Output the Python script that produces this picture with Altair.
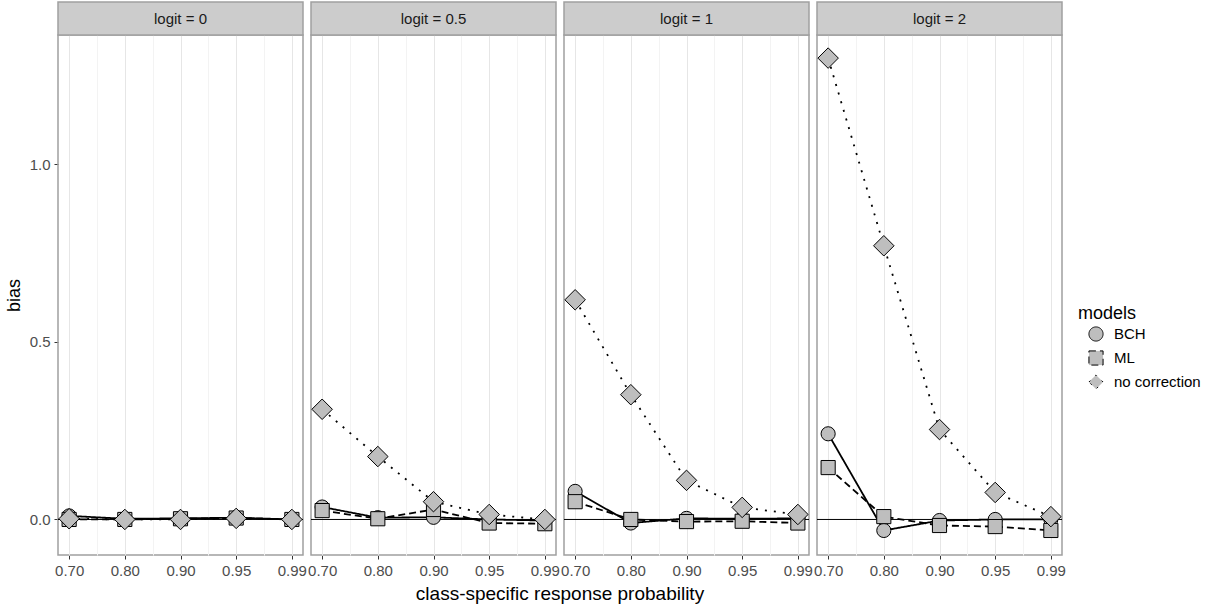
import altair as alt
import pandas as pd

probs = ["0.70", "0.80", "0.90", "0.95", "0.99"]
logits = ["0", "0.5", "1", "2"]
models = ["BCH", "ML", "no correction"]

bch_0 = [0.010, 0.002, 0.003, 0.005, 0.000]
ml_0 = [0.000, 0.000, 0.002, 0.004, 0.000]
nc_0 = [0.002, 0.000, 0.000, 0.003, 0.000]

bch_05 = [0.035, 0.005, 0.006, 0.000, -0.003]
ml_05 = [0.025, 0.002, 0.028, -0.010, -0.012]
nc_05 = [0.310, 0.177, 0.050, 0.014, 0.000]

bch_1 = [0.079, -0.010, 0.003, 0.002, 0.003]
ml_1 = [0.050, 0.000, -0.006, -0.005, -0.010]
nc_1 = [0.618, 0.351, 0.110, 0.034, 0.014]

bch_2 = [0.241, -0.031, -0.003, 0.000, 0.000]
ml_2 = [0.146, 0.008, -0.017, -0.020, -0.031]
nc_2 = [1.298, 0.770, 0.253, 0.076, 0.008]

series = {
    "0": [bch_0, ml_0, nc_0],
    "0.5": [bch_05, ml_05, nc_05],
    "1": [bch_1, ml_1, nc_1],
    "2": [bch_2, ml_2, nc_2],
}

rows = []
for lg in logits:
    for m, vals in zip(models, series[lg]):
        for i, v in enumerate(vals):
            rows.append({"logit": lg, "strip": "logit = " + lg, "model": m,
                         "idx": i + 1, "bias": v})
df = pd.DataFrame(rows)

FONT = "Liberation Sans"
W, H = 245, 520
BORDER = "#A0A0A0"

label_expr = " : ".join(
    [f"datum.value == {i + 1} ? '{p}'" for i, p in enumerate(probs)]) + " : ''"

x_axis = alt.Axis(
    values=[1, 1.5, 2, 2.5, 3, 3.5, 4, 4.5, 5],
    labelExpr=label_expr, title=None, labelFlush=False, labelOverlap=False,
    labelBound=False,
    gridColor={"condition": {"test": "datum.value % 1 == 0", "value": "#E6E6E6"},
               "value": "#F3F3F3"},
    tickColor={"condition": {"test": "datum.value % 1 == 0", "value": "#333333"},
               "value": "rgba(0,0,0,0)"},
)
y_axis = alt.Axis(
    values=[0, 0.25, 0.5, 0.75, 1.0, 1.25],
    labelExpr="datum.value % 0.5 == 0 ? format(datum.value, '.1f') : ''",
    title="bias", titlePadding=6,
    gridColor={"condition": {"test": "datum.value % 0.5 == 0", "value": "#E6E6E6"},
               "value": "#F3F3F3"},
    tickColor={"condition": {"test": "datum.value % 0.5 == 0", "value": "#333333"},
               "value": "rgba(0,0,0,0)"},
)

x = alt.X("idx:Q", scale=alt.Scale(domain=[0.8, 5.2], nice=False, zero=False), axis=x_axis)
y = alt.Y("bias:Q", scale=alt.Scale(domain=[-0.1, 1.363], nice=False, zero=False), axis=y_axis)

one_row = "datum.idx == 1 && datum.model == 'BCH'"

legend = alt.Legend(title="models", orient="none", legendX=1020, legendY=270,
                    symbolFillColor="#BEBEBE", symbolStrokeColor="black",
                    symbolStrokeWidth=1, symbolSize=200, symbolOffset=10,
                    labelOffset=10, rowPadding=4, titlePadding=3)

rule = alt.Chart().mark_rule(color="black", strokeWidth=1).encode(
    y=alt.datum(0)).transform_filter(one_row)

lines = alt.Chart().mark_line(color="black", strokeWidth=1.8).encode(
    x=x, y=y,
    strokeDash=alt.StrokeDash("model:N", scale=alt.Scale(domain=models, range=[[1, 0], [7, 4], [2, 7]]),
                              legend=legend),
)

points = alt.Chart().mark_point(filled=False, color="black", fill="#BEBEBE", stroke="black",
                                strokeWidth=1, opacity=1, fillOpacity=1).encode(
    x=x, y=y,
    shape=alt.Shape("model:N", scale=alt.Scale(domain=models, range=["circle", "square", "diamond"]),
                    legend=legend),
    stroke=alt.Stroke("model:N", scale=alt.Scale(domain=models, range=["black", "black", "black"]),
                      legend=legend),
    size=alt.condition("datum.model == 'no correction'", alt.value(420), alt.value(200)),
)

strip = alt.Chart().mark_rect(fill="#CCCCCC", stroke=BORDER, strokeWidth=1.5).encode(
    x=alt.value(0), x2=alt.value(W), y=alt.value(-33), y2=alt.value(0)
).transform_filter(one_row)

strip_text = alt.Chart().mark_text(font=FONT, fontSize=15, color="#1A1A1A").encode(
    x=alt.value(W / 2), y=alt.value(-16), text="strip:N"
).transform_filter(one_row)

chart = alt.layer(rule, lines, points, strip, strip_text, data=df).properties(
    width=W, height=H
).facet(
    column=alt.Column("logit:N", sort=logits,
                      header=alt.Header(labels=False, title="class-specific response probability",
                                        titleOrient="bottom", titleFont=FONT, titleFontSize=19,
                                        titleFontWeight="normal", titleColor="black",
                                        titlePadding=-3)),
    spacing=8,
    bounds="flush",
).configure_view(
    stroke=BORDER, strokeWidth=1.5
).configure_axis(
    labelFont=FONT, labelFontSize=15, labelColor="#4D4D4D",
    titleFont=FONT, titleFontSize=18, titleFontWeight="normal", titleColor="black",
    tickSize=4, domain=False, labelPadding=4,
).configure_legend(
    titleFont=FONT, titleFontSize=18, titleFontWeight="normal", titleColor="black",
    labelFont=FONT, labelFontSize=15, labelColor="black",
).properties(padding={"left": 5, "top": 0, "right": 5, "bottom": 5})

chart.save("out.html", embed_options={"renderer": "svg", "actions": False})
